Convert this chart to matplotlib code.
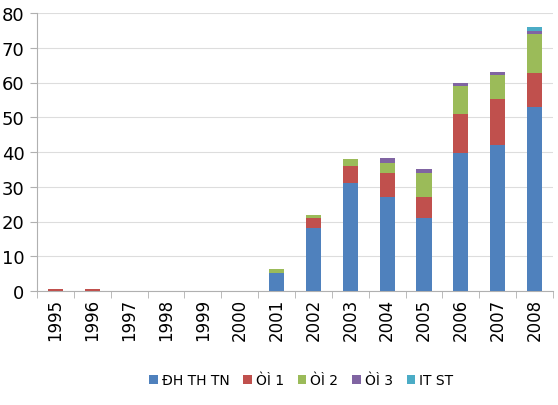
import matplotlib
matplotlib.use("Agg")
import matplotlib.pyplot as plt
import numpy as np

years = ["1995", "1996", "1997", "1998", "1999", "2000", "2001",
         "2002", "2003", "2004", "2005", "2006", "2007", "2008"]
series_names = ["ĐH TH TN", "ÒÌ 1", "ÒÌ 2", "ÒÌ 3", "IT ST"]
s1 = [0, 0, 0, 0, 0, 0, 5.3, 18.2, 31.0, 27.0, 21.0, 39.8, 42.1, 53.0]
s2 = [0.7, 0.7, 0, 0, 0, 0, 0, 2.9, 4.9, 6.9, 6.0, 11.0, 13.1, 9.8]
s3 = [0, 0, 0, 0, 0, 0, 0.9, 0.9, 2.2, 3.0, 6.9, 8.2, 6.9, 11.1]
s4 = [0, 0, 0, 0, 0, 0, 0, 0, 0, 1.3, 1.3, 0.9, 0.9, 0.9]
s5 = [0, 0, 0, 0, 0, 0, 0, 0, 0, 0, 0, 0, 0, 1.2]
colors = ["#4F81BD", "#C0504D", "#9BBB59", "#8064A2", "#4BACC6"]
yticks = [0, 10, 20, 30, 40, 50, 60, 70, 80]

fig = plt.figure(figsize=(5.58, 4.06), dpi=100)
ax = fig.add_axes([37/558, 1 - 292/406, 516/558, 278/406])

x = np.arange(len(years))
bottom = np.zeros(len(years))
handles = []
for vals, name, c in zip([s1, s2, s3, s4, s5], series_names, colors):
    v = np.array(vals, dtype=float)
    h = ax.bar(x, v, width=0.41, bottom=bottom, color=c, label=name, zorder=3)
    handles.append(h)
    bottom += v

ax.set_xlim(-0.5, len(years) - 0.5)
ax.set_ylim(0, 80)
ax.set_yticks(yticks)
ax.set_yticklabels([str(t) for t in yticks], fontsize=13)
ax.set_xticks(x)
ax.set_xticklabels(years, rotation=90, fontsize=12)
ax.tick_params(axis="x", which="major", length=0, pad=5)
ax.set_xticks(np.arange(-0.5, len(years) + 0.5, 1), minor=True)
ax.tick_params(axis="x", which="minor", length=5, color="#B0B0B0", direction="out")
ax.tick_params(axis="y", length=5, color="#B0B0B0", direction="out", pad=4)
ax.grid(axis="y", color="#DDDDDD", linewidth=0.8, zorder=0)
for sp in ["top", "right"]:
    ax.spines[sp].set_visible(False)
for sp in ["left", "bottom"]:
    ax.spines[sp].set_color("#B0B0B0")

fig.legend(handles=handles, labels=series_names, loc="center",
           bbox_to_anchor=(0.54, 1 - 381/406), ncol=5, frameon=False,
           fontsize=10, handlelength=0.6, handleheight=0.6,
           handletextpad=0.3, columnspacing=1.0)

fig.savefig("out.png", dpi=100)
